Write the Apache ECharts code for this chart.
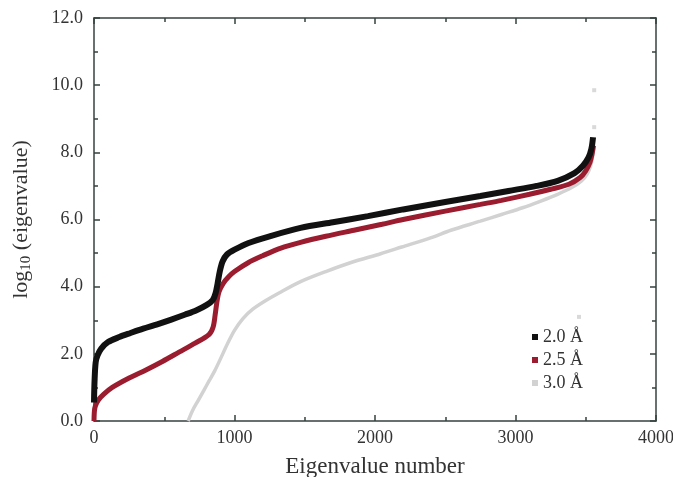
<!DOCTYPE html>
<html>
<head>
<meta charset="utf-8">
<script src="https://cdn.jsdelivr.net/npm/echarts@6/dist/echarts.min.js"></script>
<style>
  html, body { margin: 0; padding: 0; background: #fff; }
  #chart { width: 673px; height: 477px; }
</style>
</head>
<body>
<div id="chart"></div>
<script>
// 2.0 A
const numA = [0, 4, 12, 25, 50, 100, 180, 260, 350, 450, 550, 650, 730, 800, 845, 865, 880, 895, 915, 945, 1000, 1100, 1250, 1470, 1700, 1950, 2200, 2500, 2750, 2950, 3150, 3300, 3420, 3480, 3520, 3540, 3552]
const valA = [0.55, 1.2, 1.75, 1.95, 2.15, 2.35, 2.5, 2.62, 2.75, 2.88, 3.02, 3.17, 3.3, 3.45, 3.6, 3.8, 4.1, 4.45, 4.75, 4.95, 5.1, 5.3, 5.5, 5.75, 5.92, 6.1, 6.3, 6.52, 6.7, 6.85, 7.0, 7.15, 7.38, 7.6, 7.85, 8.1, 8.45]
// 2.5 A
const numB = [0, 3, 10, 30, 70, 130, 250, 370, 490, 605, 720, 818, 848, 862, 875, 890, 920, 960, 1000, 1100, 1200, 1330, 1470, 1650, 1850, 2050, 2200, 2500, 2750, 2900, 3100, 3250, 3380, 3460, 3500, 3530, 3545, 3555]
const valB = [0.0, 0.3, 0.45, 0.62, 0.8, 1.0, 1.28, 1.52, 1.78, 2.05, 2.32, 2.57, 2.8, 3.15, 3.55, 3.85, 4.1, 4.3, 4.45, 4.72, 4.92, 5.15, 5.32, 5.5, 5.68, 5.86, 6.0, 6.25, 6.45, 6.57, 6.75, 6.9, 7.05, 7.25, 7.45, 7.7, 7.95, 8.2]
// 3.0 A
const numC = [670, 700, 740, 780, 820, 860, 900, 950, 1000, 1060, 1130, 1220, 1320, 1470, 1650, 1830, 2040, 2190, 2400, 2540, 2750, 2900, 3050, 3180, 3300, 3400, 3470, 3510, 3535, 3550, 3558]
const valC = [0.0, 0.3, 0.6, 0.9, 1.2, 1.5, 1.85, 2.3, 2.7, 3.05, 3.33, 3.58, 3.82, 4.15, 4.45, 4.72, 4.98, 5.18, 5.46, 5.68, 5.95, 6.15, 6.35, 6.55, 6.75, 6.95, 7.15, 7.35, 7.6, 7.9, 8.2]
// stray 3.0 A points
const strayNum = [3560, 3560, 3452]
const strayVal = [9.85, 8.75, 3.1]

const names = ['2.0 Å', '2.5 Å', '3.0 Å']
const colors = ['#111111', '#9a1c2e', '#d2d2d2']

const zip = (a, b) => a.map((x, i) => [x, b[i]])
const font = 'Liberation Serif'
const axisColor = '#36423f'

const myChart = echarts.init(document.getElementById('chart'))

const baseX = {
  type: 'value', min: 0, max: 4000, interval: 1000,
  axisLine: { show: true, onZero: false, lineStyle: { color: axisColor, width: 1.5 } },
  axisTick: { show: true, inside: true, length: 6, lineStyle: { color: axisColor, width: 1.5 } },
  minorTick: { show: true, splitNumber: 2, length: 4, lineStyle: { color: axisColor, width: 1.5 } },
  splitLine: { show: false }
}
const baseY = {
  type: 'value', min: 0, max: 12, interval: 2,
  axisLine: { show: true, onZero: false, lineStyle: { color: axisColor, width: 1.5 } },
  axisTick: { show: true, inside: true, length: 6, lineStyle: { color: axisColor, width: 1.5 } },
  minorTick: { show: true, splitNumber: 2, length: 4, lineStyle: { color: axisColor, width: 1.5 } },
  splitLine: { show: false }
}

myChart.setOption({
  animation: false,
  backgroundColor: '#fff',
  grid: { left: 94, right: 17, top: 18, bottom: 56, containLabel: false, outerBoundsMode: 'none' },
  legend: {
    data: names.map(n => ({ name: n, icon: 'rect' })),
    orient: 'vertical',
    left: 527, top: 323,
    itemWidth: 6, itemHeight: 6, itemGap: 5,
    textStyle: { fontFamily: font, fontSize: 18, color: '#333' }
  },
  xAxis: [
    Object.assign({}, baseX, {
      position: 'bottom',
      name: 'Eigenvalue number',
      nameLocation: 'middle', nameGap: 34,
      nameTextStyle: { fontFamily: font, fontSize: 23, color: '#333' },
      axisLabel: { fontFamily: font, fontSize: 18, color: '#333', margin: 8, formatter: v => String(v) }
    }),
    Object.assign({}, baseX, { position: 'top', axisLabel: { show: false } })
  ],
  yAxis: [
    Object.assign({}, baseY, {
      position: 'left',
      name: '{a|log}{b|10}{a| (eigenvalue)}',
      nameLocation: 'middle', nameGap: 60, nameRotate: 90,
      nameTextStyle: {
        fontFamily: font, color: '#333',
        rich: {
          a: { fontFamily: font, fontSize: 22, color: '#333' },
          b: { fontFamily: font, fontSize: 15, color: '#333', padding: [10, 0, 0, 0] }
        }
      },
      axisLabel: { fontFamily: font, fontSize: 18, color: '#333', margin: 11, formatter: v => v.toFixed(1) }
    }),
    Object.assign({}, baseY, { position: 'right', axisLabel: { show: false } })
  ],
  series: [
    {
      name: names[2], type: 'line', data: zip(numC, valC), showSymbol: false, smooth: 0.3,
      lineStyle: { color: colors[2], width: 3.5 }, itemStyle: { color: colors[2] }, z: 2
    },
    {
      name: names[2] + ' stray', type: 'scatter', data: zip(strayNum, strayVal),
      symbol: 'rect', symbolSize: 4, itemStyle: { color: '#cfcfcf' }, z: 2
    },
    {
      name: names[1], type: 'line', data: zip(numB, valB), showSymbol: false, smooth: 0.3,
      lineStyle: { color: colors[1], width: 5 }, itemStyle: { color: colors[1] }, z: 3
    },
    {
      name: names[0], type: 'line', data: zip(numA, valA), showSymbol: false, smooth: 0.3,
      lineStyle: { color: colors[0], width: 6 }, itemStyle: { color: colors[0] }, z: 4
    }
  ]
})
</script>
</body>
</html>
